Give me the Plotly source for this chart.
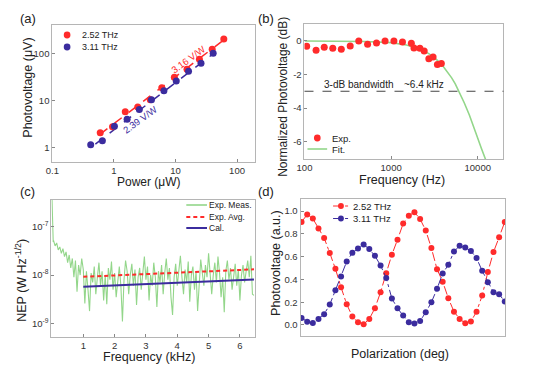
import plotly.graph_objects as go

W, H = 535, 367
def px(x): return x / W
def py(y): return 1 - y / H

RED = "#FF2B2B"
BLUE = "#3B2C9E"
GREEN = "#93D68A"
FRAME = "#B5B5B5"
FONT = "Liberation Sans, Arial, sans-serif"

# ---------------- (a) photovoltage vs power ----------------
power_252 = [0.60, 0.95, 1.53, 2.44, 3.9, 6.0, 9.6, 15.4, 24.5, 39.5, 61]
volt_252 = [2.08, 2.8, 5.8, 7.3, 10.4, 18.6, 31, 46, 75, 122, 200]
power_311 = [0.42, 0.65, 1.02, 1.64, 2.59, 4.08, 6.5, 10.3, 16.3, 26, 41]
volt_311 = [1.16, 1.41, 2.88, 4.05, 6.5, 10.4, 16.1, 25.9, 41.6, 62, 101]
fit_power_252 = [0.6, 62]
fit_volt_252 = [1.95, 196]
fit_power_311 = [0.5, 44]
fit_volt_311 = [1.2, 105]

# ---------------- (b) frequency response ----------------
freq_exp = [106, 136, 169, 212, 266, 337, 423, 535, 678, 851, 1077, 1352, 1711,
            1835, 2148, 2408, 2725, 3050, 3421, 3800]
db_exp = [-0.32, -0.56, -0.38, -0.44, -0.50, -0.30, 0.0, -0.20, -0.12, 0.0, 0.0,
          -0.06, -0.14, -0.42, -0.44, -0.60, -1.06, -0.96, -1.41, -1.34]
freq_fit = [100, 200, 500, 1000, 1500, 2000, 2500, 3000, 3500, 4000, 4500, 5000,
            5500, 6000, 6500, 7000, 8000, 9000, 10000, 11000, 12000, 12800]
db_fit = [0, 0, -0.03, -0.10, -0.24, -0.42, -0.64, -0.90, -1.20, -1.52, -1.86, -2.20,
          -2.56, -2.94, -3.32, -3.70, -4.42, -5.10, -5.80, -6.40, -6.95, -7.30]
bandwidth_level = -3

# ---------------- (c) NEP ----------------
nep_freq = [0.0, 0.01, 0.02, 0.03, 0.04, 0.05,
            0.10, 0.15, 0.20, 0.25, 0.30, 0.35, 0.40, 0.45, 0.50, 0.55, 0.60, 0.65,
            0.70, 0.75, 0.80, 0.85, 0.90, 0.95, 1.00, 1.05, 1.10, 1.15, 1.20, 1.25,
            1.30, 1.35, 1.40, 1.45, 1.50, 1.55, 1.60, 1.65, 1.70, 1.75, 1.80, 1.85,
            1.90, 1.95, 2.00, 2.05, 2.10, 2.15, 2.20, 2.25, 2.30, 2.35, 2.40, 2.45,
            2.50, 2.55, 2.60, 2.65, 2.70, 2.75, 2.80, 2.85, 2.90, 2.95, 3.00, 3.05,
            3.10, 3.15, 3.20, 3.25, 3.30, 3.35, 3.40, 3.45, 3.50, 3.55, 3.60, 3.65,
            3.70, 3.75, 3.80, 3.85, 3.90, 3.95, 4.00, 4.05, 4.10, 4.15, 4.20, 4.25,
            4.30, 4.35, 4.40, 4.45, 4.50, 4.55, 4.60, 4.65, 4.70, 4.75, 4.80, 4.85,
            4.90, 4.95, 5.00, 5.05, 5.10, 5.15, 5.20, 5.25, 5.30, 5.35, 5.40, 5.45,
            5.50, 5.55, 5.60, 5.65, 5.70, 5.75, 5.80, 5.85, 5.90, 5.95, 6.00, 6.05,
            6.10, 6.15, 6.20, 6.25, 6.30, 6.35, 6.40, 6.45]
nep_meas_n = [400, 150, 90, 60, 48, 52,
              40, 46, 33, 38, 28, 35, 24, 30, 18, 26, 14, 22,
              9, 20, 4.5, 16, 10, 22, 13, 2.6, 12, 5, 1.8, 11,
              7, 15, 4, 9, 18, 6, 12, 3, 10, 2.5, 14, 8,
              19, 5, 11, 3.5, 9, 15, 6, 1.1, 8, 20, 12, 4,
              10, 17, 6, 13, 2.4, 9, 14, 5, 11, 24, 8, 15,
              3, 10, 6, 18, 9, 2.2, 12, 7, 16, 4, 11, 22,
              8, 14, 3.5, 1.5, 9, 17, 6, 12, 25, 9, 4, 13,
              7, 19, 2.8, 10, 15, 5, 12, 1.8, 8, 21, 11, 6,
              16, 9, 28, 12, 4, 10, 18, 7, 24, 11, 3.5, 9,
              1.7, 12, 20, 8, 14, 5, 11, 17, 6, 13, 3, 10,
              16, 7, 12, 20, 9, 25, 4, 3.8]
nep_meas = [v * 1e-9 for v in nep_meas_n]
avg_freq = [1.0, 6.45]
nep_avg = [9.2e-9, 1.31e-8]
cal_freq = [1.0, 6.45]
nep_cal = [5.7e-9, 8.1e-9]

# ---------------- (d) polarization ----------------
pol_deg = [0, 10, 20, 30, 40, 50, 60, 70, 80, 90, 100, 110, 120, 130, 140, 150, 160,
           170, 180, 190, 200, 210, 220, 230, 240, 250, 260, 270, 280, 290, 300, 310,
           320, 330, 340, 350, 360]
pv_252 = [0.905, 0.969, 0.934, 0.846, 0.764, 0.632, 0.493, 0.33, 0.182, 0.074, 0.024,
          0.006, 0.053, 0.147, 0.288, 0.455, 0.617, 0.749, 0.89, 0.96, 0.99, 0.93,
          0.83, 0.675, 0.49, 0.38, 0.235, 0.117, 0.053, 0.015, 0.03, 0.117, 0.258,
          0.464, 0.64, 0.77, 0.905]
pv_311 = [0.062, 0.029, 0.018, 0.053, 0.094, 0.179, 0.305, 0.425, 0.557, 0.633, 0.672,
          0.707, 0.666, 0.607, 0.522, 0.413, 0.232, 0.147, 0.082, 0.023, 0.012, 0.035,
          0.111, 0.199, 0.317, 0.452, 0.528, 0.645, 0.695, 0.68, 0.65, 0.587, 0.475,
          0.375, 0.287, 0.27, 0.205]

fig = go.Figure()

# (a)
fig.add_trace(go.Scatter(x=fit_power_252, y=fit_volt_252, mode="lines",
                         line=dict(color=RED, width=1.5, dash="dash"), xaxis="x", yaxis="y"))
fig.add_trace(go.Scatter(x=fit_power_311, y=fit_volt_311, mode="lines",
                         line=dict(color=BLUE, width=1.5, dash="dash"), xaxis="x", yaxis="y"))
fig.add_trace(go.Scatter(x=power_252, y=volt_252, mode="markers", name="2.52 THz",
                         marker=dict(color=RED, size=7), xaxis="x", yaxis="y"))
fig.add_trace(go.Scatter(x=power_311, y=volt_311, mode="markers", name="3.11 THz",
                         marker=dict(color=BLUE, size=7), xaxis="x", yaxis="y"))

# (b)
fig.add_trace(go.Scatter(x=freq_fit, y=db_fit, mode="lines", name="Fit.",
                         line=dict(color=GREEN, width=1.6), xaxis="x2", yaxis="y2"))
fig.add_trace(go.Scatter(x=freq_exp, y=db_exp, mode="markers", name="Exp.",
                         marker=dict(color=RED, size=7), xaxis="x2", yaxis="y2"))

# (c)
fig.add_trace(go.Scatter(x=nep_freq, y=nep_meas, mode="lines", name="Exp. Meas.",
                         line=dict(color=GREEN, width=1.1), xaxis="x3", yaxis="y3"))
fig.add_trace(go.Scatter(x=cal_freq, y=nep_cal, mode="lines", name="Cal.",
                         line=dict(color=BLUE, width=2), xaxis="x3", yaxis="y3"))
fig.add_trace(go.Scatter(x=avg_freq, y=nep_avg, mode="lines", name="Exp. Avg.",
                         line=dict(color=RED, width=2, dash="4px,3px"), xaxis="x3", yaxis="y3"))

# (d)
fig.add_trace(go.Scatter(x=pol_deg, y=pv_252, mode="lines+markers", name="2.52 THz",
                         line=dict(color=RED, width=1, dash="dashdot"),
                         marker=dict(color=RED, size=6), xaxis="x4", yaxis="y4"))
fig.add_trace(go.Scatter(x=pol_deg, y=pv_311, mode="lines+markers", name="3.11 THz",
                         line=dict(color=BLUE, width=1, dash="dashdot"),
                         marker=dict(color=BLUE, size=6), xaxis="x4", yaxis="y4"))

def ax(**kw):
    base = dict(showline=True, mirror=True, linecolor=FRAME, linewidth=1,
                ticks="inside", ticklen=3, tickcolor="#888", showgrid=False,
                zeroline=False, tickfont=dict(size=9.5, color="#333", family=FONT))
    base.update(kw)
    return base

fig.update_layout(
    width=W, height=H, margin=dict(l=0, r=0, t=0, b=0),
    paper_bgcolor="white", plot_bgcolor="white", showlegend=False,
    font=dict(family=FONT, color="#222"),
    xaxis=ax(domain=[px(45), px(251)], anchor="y", type="log", range=[-1, 2.296],
             tickvals=[0.1, 1, 10, 100], ticktext=["0.1", "1", "10", "100"]),
    yaxis=ax(domain=[py(162), py(25)], anchor="x", type="log", range=[-0.3, 2.6],
             tickvals=[1, 10, 100], ticktext=["1", "10", "100"]),
    xaxis2=ax(domain=[px(301), px(503)], anchor="y2", type="log", range=[2, 4.297],
              tickvals=[100, 1000, 10000], ticktext=["100", "1000", "10000"]),
    yaxis2=ax(domain=[py(159), py(24)], anchor="x2", range=[-7.04, 1.01],
              tickvals=[0, -2, -4, -6], ticktext=["0", "-2", "-4", "-6"]),
    xaxis3=ax(domain=[px(44), px(251)], anchor="y3", range=[-0.02, 6.49],
              tickvals=[1, 2, 3, 4, 5, 6], ticktext=["1", "2", "3", "4", "5", "6"]),
    yaxis3=ax(domain=[py(337), py(200)], anchor="x3", type="log", range=[-9.28, -6.45],
              tickvals=[1e-9, 1e-8, 1e-7],
              ticktext=["10<sup>-9</sup>", "10<sup>-8</sup>", "10<sup>-7</sup>"]),
    xaxis4=ax(domain=[px(297), px(505)], anchor="y4", range=[-1.75, 361.2],
              showticklabels=False, ticks=""),
    yaxis4=ax(domain=[py(336), py(199)], anchor="x4", range=[-0.097, 1.106],
              tickvals=[0, 0.2, 0.4, 0.6, 0.8, 1.0],
              ticktext=["0.0", "0.2", "0.4", "0.6", "0.8", "1.0"]),
)

shapes = []
annotations = []

def text(x, y, s, size=9.5, color="#222", anchor="center", angle=0):
    annotations.append(dict(x=px(x), y=py(y), xref="paper", yref="paper", text=s,
                            showarrow=False, xanchor=anchor, yanchor="middle",
                            borderpad=0, textangle=angle,
                            font=dict(size=size, color=color, family=FONT)))

def dot(x, y, color, r=3.4):
    shapes.append(dict(type="circle", xref="paper", yref="paper",
                       x0=px(x - r), x1=px(x + r), y0=py(y + r), y1=py(y - r),
                       fillcolor=color, line=dict(width=0)))

def seg(x0, x1, y, color, width=1.5, dash="solid"):
    shapes.append(dict(type="line", xref="paper", yref="paper", x0=px(x0), x1=px(x1),
                       y0=py(y), y1=py(y), line=dict(color=color, width=width, dash=dash)))

# bandwidth line in (b)
shapes.append(dict(type="line", xref="x2 domain", yref="y2", x0=0, x1=1,
                   y0=bandwidth_level, y1=bandwidth_level,
                   line=dict(color="#444", width=1.2, dash="dash")))

# panel labels
text(20, 18, "(a)", size=13)
text(262, 18, "(b)", size=13)
text(20, 192, "(c)", size=13)
text(262, 192, "(d)", size=13)

# axis titles
text(143, 182, "Power (μW)", size=12)
text(20, 88, "Photovoltage (μV)", size=12.5, angle=-90)
text(400, 180, "Frequency (Hz)", size=12.5)
text(279, 97, "Normalized Photovoltage (dB)", size=12, angle=-90)
text(143, 357, "Frequency (kHz)", size=12.5)
text(13, 280, "NEP (W Hz<sup>-1/2</sup>)", size=12.5, angle=-90)
text(398, 354, "Polarization (deg)", size=12.5)
text(272, 263, "Photovoltage (a.u.)", size=12.5, angle=-90)

# (a) legend + labels
dot(60, 35, RED)
dot(60, 47, BLUE)
text(74, 35, "2.52 THz", size=9, anchor="left")
text(74, 47, "3.11 THz", size=9, anchor="left")
text(183, 60, "3.16 V/W", size=9.5, color=RED, angle=-36)
text(134, 119, "2.39 V/W", size=9.5, color=BLUE, angle=-36)

# (b) legend + labels
dot(314, 138, RED)
seg(304, 324, 149, GREEN, width=1.6)
text(328, 138, "Exp.", size=9.5, anchor="left")
text(328, 149, "Fit.", size=9.5, anchor="left")
text(356, 85, "3-dB bandwidth", size=10)
text(422, 85, "~6.4 kHz", size=10)

# (c) legend
seg(181, 202, 205, GREEN, width=1.6)
seg(181, 202, 217, RED, width=2, dash="4px,3px")
seg(181, 202, 228, BLUE, width=2)
text(203, 205, "Exp. Meas.", size=8.5, anchor="left")
text(203, 217, "Exp. Avg.", size=8.5, anchor="left")
text(203, 228, "Cal.", size=8.5, anchor="left")

# (d) legend
seg(330, 346, 206, RED, width=1, dash="dashdot")
dot(338, 206, RED, r=3)
seg(330, 346, 218.5, BLUE, width=1, dash="dashdot")
dot(338, 218.5, BLUE, r=3)
text(349, 206, "2.52 THz", size=9.5, anchor="left")
text(349, 218.5, "3.11 THz", size=9.5, anchor="left")

fig.update_layout(shapes=shapes, annotations=annotations)
fig.write_html("out.html", config={"displayModeBar": False},
               post_script="document.body.style.margin='0';document.body.style.overflow='hidden';")
